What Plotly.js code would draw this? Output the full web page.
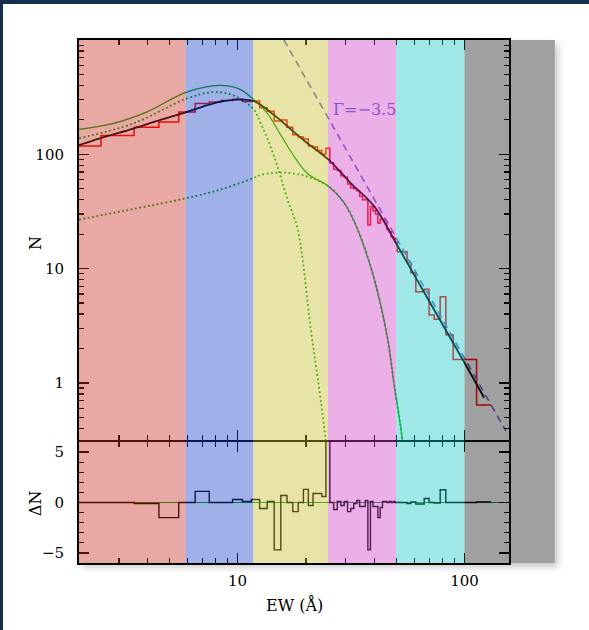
<!DOCTYPE html>
<html><head><meta charset="utf-8">
<script src="https://cdn.plot.ly/plotly-3.0.1.min.js"></script>
<style>
html,body{margin:0;padding:0;background:#fff;}
#wrap{position:relative;width:589px;height:630px;overflow:hidden;background:#fff;}
#shadow{position:absolute;left:79px;top:40px;width:476px;height:523px;background:#fff;box-shadow:3px 4px 7px rgba(0,0,0,0.22);}
#chart{position:absolute;left:0;top:0;width:589px;height:630px;}
#bt{position:absolute;left:0;top:0;width:589px;height:4px;background:#15304f;}
#bl{position:absolute;left:0;top:0;width:3px;height:630px;background:#15304f;}
</style></head>
<body><div id="wrap"><div id="shadow"></div><div id="chart"></div><div id="bt"></div><div id="bl"></div></div>
<script>
// ---------- DATA ----------
// Histogram bin edges (EW, Angstrom)
const binEdges = [2.0, 2.5, 3.5, 4.5, 5.5, 6.5, 7.5, 8.5, 9.5, 10.5, 11.5, 12.5, 13.5, 14.5, 15.5,
  16.5, 17.5, 18.5, 19.5, 20.5, 21.5, 22.5, 23.5, 24.5, 25.5, 26.5, 27.5, 28.5, 29.5, 30.5, 31.5,
  32.5, 33.5, 34.5, 35.5, 36.5, 37.5, 38.5, 39.5, 40.5, 41.5, 42.5, 43.5, 44.5, 45.5, 46.5, 47.5,
  48.5, 49.5, 50.5, 55.8, 58.0, 61.0, 66.4, 69.8, 73.5, 78.1, 82.7, 89.1, 113.0, 130.7];
// Observed counts per bin
const histN = [118, 146, 172, 192, 234,
  278, 287, 296, 303, 290, 292,
  255, 238, 196, 200, 172, 148, 142, 136, 118, 116, 108, 100, 113,
  84, 74, 72, 65, 63, 55, 51, 50, 48, 43, 40, 40, 24, 35, 32, 30, 25, 27, 27, 25, 22, 21, 19, 18.5, 17,
  14, 11.3, 9.2, 6.27, 6.6, 3.93, 3.6, 5.66, 2.63, 1.6, 0.64];
// Residuals per bin
const residN = [0, 0, -0.1, -1.5, 0,
  1.1, 0, 0, 0.3, 0.1, 0.3,
  -0.6, 0.1, -4.7, 0.7, 0, -0.9, 0, 1.3, -0.3, 0.9, 0.9, 0.6, 8,
  0, -0.7, 0.1, -0.3, 0.1, -0.9, -0.6, -0.1, 0.2, -0.4, -0.4, 0.2, -4.7, 0.1, -0.4, -0.4, -1.5, -0.5, 0.1, 0.1, 0, 0.1, 0, 0.1, 0,
  0, -0.1, 0.05, -0.15, 0.4, 0, -0.05, 1.27, 0, 0, 0.05];

// Best-fit model (black)
const modelEW = [2.0, 2.47, 3.47, 4.54, 5.96, 7.30, 8.64, 10.2, 11.8, 14.5, 17.7, 20.3, 25.3, 31.5, 40.0, 49.8, 71.0, 100, 122];
const modelN  = [120, 138, 168, 199, 234, 268, 292, 301, 292, 220, 157, 125, 89, 56, 35, 16.8, 4.9, 1.5, 0.74];
// Two-component sum (green solid)
const sumEW = [2.0, 2.83, 3.97, 5.96, 8.36, 10.2, 11.8, 13.55, 15.5, 17.8, 20.3, 25.3, 29.5, 33.8, 40.0, 45.8, 49.0, 52.4, 54.5];
const sumN  = [165, 186, 234, 350, 401, 372, 300, 227, 147, 95, 68, 52, 37.5, 22, 8.1, 2.43, 0.95, 0.40, 0.22];
// Narrow component (green dotted)
const comp1EW = [2.0, 3.47, 5.96, 7.81, 9.56, 11.7, 12.66, 14.5, 16.6, 18.4, 21.0, 23.3, 24.8];
const comp1N  = [138, 186, 307, 350, 328, 251, 186, 95, 40, 22, 2.97, 0.68, 0.25];
// Broad component (green dotted)
const comp2EW = [2.0, 2.83, 3.97, 5.96, 8.36, 11.7, 12.66, 16.04, 20.3, 25.3, 29.5, 33.8, 40.0, 45.8, 49.0, 52.4, 54.5];
const comp2N  = [26.8, 30.7, 35, 41.4, 49, 61.8, 66, 69.2, 63.8, 52, 37.5, 22, 8.1, 2.43, 0.95, 0.40, 0.22];
// Power law Gamma = -3.5 (dashed)
const plawEW = [16.0, 152];
const plawN  = [1000, 0.38];
// Zero line of residual panel
const zeroEW = [2.0, 145];
const zeroN  = [0, 0];

// EW bands
const bandEdges = [2, 5.9, 11.7, 25, 50, 100, 250];
const bandColors = ['rgb(197,37,27)', 'rgb(17,58,198)', 'rgb(197,187,37)', 'rgb(205,57,197)', 'rgb(17,197,197)', 'rgb(17,17,17)'];

const plawLabel = {text: 'Γ=−3.5', ew: 25.8, n: 247};

// ---------- PLOT ----------
const X_RANGE = [2.0, 157];
const xr = [Math.log10(X_RANGE[0]), Math.log10(X_RANGE[1])];
function xfrac(v){ return (Math.log10(v) - xr[0]) / (xr[1] - xr[0]); }

function stepY(v){ return v.concat([v[v.length-1]]); }

const RED = 'rgb(255,0,0)';
const GREEN = 'rgb(0,165,0)';
const DASHC = 'rgb(100,100,205)';

const traces = [
  {x: binEdges, y: stepY(histN), mode: 'lines', line: {shape: 'hv', color: RED, width: 1.5}, xaxis: 'x', yaxis: 'y', hoverinfo: 'skip'},
  {x: comp2EW, y: comp2N, mode: 'lines', line: {shape: 'spline', smoothing: 1, color: GREEN, width: 1.8, dash: '1.8px,2.6px'}, xaxis: 'x', yaxis: 'y'},
  {x: comp1EW, y: comp1N, mode: 'lines', line: {shape: 'spline', smoothing: 1, color: GREEN, width: 1.8, dash: '1.8px,2.6px'}, xaxis: 'x', yaxis: 'y'},
  {x: sumEW, y: sumN, mode: 'lines', line: {shape: 'spline', smoothing: 1, color: GREEN, width: 1.3}, xaxis: 'x', yaxis: 'y'},
  {x: plawEW, y: plawN, mode: 'lines', line: {color: DASHC, width: 1.6, dash: '7px,5px'}, xaxis: 'x', yaxis: 'y'},
  {x: modelEW, y: modelN, mode: 'lines', line: {shape: 'spline', smoothing: 1, color: '#000', width: 1.8}, xaxis: 'x', yaxis: 'y'},
  {x: zeroEW, y: zeroN, mode: 'lines', line: {color: GREEN, width: 1.2}, xaxis: 'x2', yaxis: 'y2'},
  {x: binEdges, y: stepY(residN), mode: 'lines', line: {shape: 'hv', color: '#000', width: 1.4}, xaxis: 'x2', yaxis: 'y2'}
];

const xMinor = [];
for (const d of [1, 10]) for (let k = 2; k <= 9; k++) { const v = k*d; if (v > 2 && v < 157) xMinor.push(v); }
const yMinor = [];
for (const d of [0.1, 1, 10, 100]) for (let k = 2; k <= 9; k++) { const v = +(k*d).toPrecision(3); if (v > 0.32 && v < 1000) yMinor.push(v); }

const tickFont = {family: 'DejaVu Serif', size: 15, color: '#000'};
const common = {showline: true, linecolor: '#000', linewidth: 2, mirror: 'ticks', ticks: 'inside',
  ticklen: 10, tickwidth: 1.5, tickcolor: '#000', showgrid: false, zeroline: false, automargin: false,
  tickfont: tickFont};
const minorCommon = {ticks: 'inside', ticklen: 5, tickwidth: 1.2, tickcolor: '#000', showgrid: false};

const PLOT_H = 523;
const RES_TOP = 121/PLOT_H;
const MAIN_BOTTOM = RES_TOP + 2/PLOT_H;

const shapes = bandColors.map((c, i) => ({
  type: 'rect', xref: 'paper', yref: 'paper',
  x0: xfrac(bandEdges[i]), x1: xfrac(bandEdges[i+1]), y0: 0, y1: 1,
  fillcolor: c, opacity: 0.4, line: {width: 0}, layer: 'above'
}));

const titleFont = {family: 'DejaVu Serif', size: 16, color: '#000'};

const layout = {
  width: 589, height: 630,
  margin: {l: 79, r: 80, t: 40, b: 67},
  paper_bgcolor: 'rgba(0,0,0,0)', plot_bgcolor: '#fff',
  showlegend: false,
  xaxis: Object.assign({}, common, {type: 'log', range: xr, anchor: 'y', showticklabels: false,
    tickmode: 'array', tickvals: [10, 100],
    minor: Object.assign({}, minorCommon, {tickmode: 'array', tickvals: xMinor})}),
  xaxis2: Object.assign({}, common, {type: 'log', range: xr, anchor: 'y2',
    tickmode: 'array', tickvals: [10, 100], ticktext: ['10', '100'], ticklabelstandoff: 3,
    minor: Object.assign({}, minorCommon, {tickmode: 'array', tickvals: xMinor})}),
  yaxis: Object.assign({}, common, {type: 'log', range: [-0.5, 3], domain: [MAIN_BOTTOM, 1], anchor: 'x',
    tickmode: 'array', tickvals: [1, 10, 100], ticktext: ['1', '10', '100'], ticklabelstandoff: 10,
    minor: Object.assign({}, minorCommon, {tickmode: 'array', tickvals: yMinor})}),
  yaxis2: Object.assign({}, common, {range: [-6, 6], domain: [0, RES_TOP], anchor: 'x2',
    tickmode: 'array', tickvals: [-5, 0, 5], ticktext: ['−5', '0', '5'], ticklabelstandoff: 10,
    minor: Object.assign({}, minorCommon, {tickmode: 'linear', tick0: 0, dtick: 1})}),
  shapes: shapes,
  annotations: [
    {text: 'N', xref: 'paper', yref: 'paper', x: (35-79)/430, y: (563-243)/523, textangle: -90,
     showarrow: false, font: titleFont, xanchor: 'center', yanchor: 'middle'},
    {text: 'ΔN', xref: 'paper', yref: 'paper', x: (35-79)/430, y: (563-503)/523, textangle: -90,
     showarrow: false, font: titleFont, xanchor: 'center', yanchor: 'middle'},
    {text: 'EW (Å)', xref: 'paper', yref: 'paper', x: 0.5, y: (563-605)/523,
     showarrow: false, font: titleFont, xanchor: 'center', yanchor: 'middle'},
    {text: plawLabel.text, xref: 'x', yref: 'y', x: Math.log10(plawLabel.ew), y: Math.log10(plawLabel.n),
     showarrow: false, xanchor: 'left', yanchor: 'middle',
     font: {family: 'DejaVu Serif', size: 16, color: 'rgb(135,85,200)'}}
  ]
};

Plotly.newPlot('chart', traces, layout, {staticPlot: true, displayModeBar: false});
</script></body></html>
